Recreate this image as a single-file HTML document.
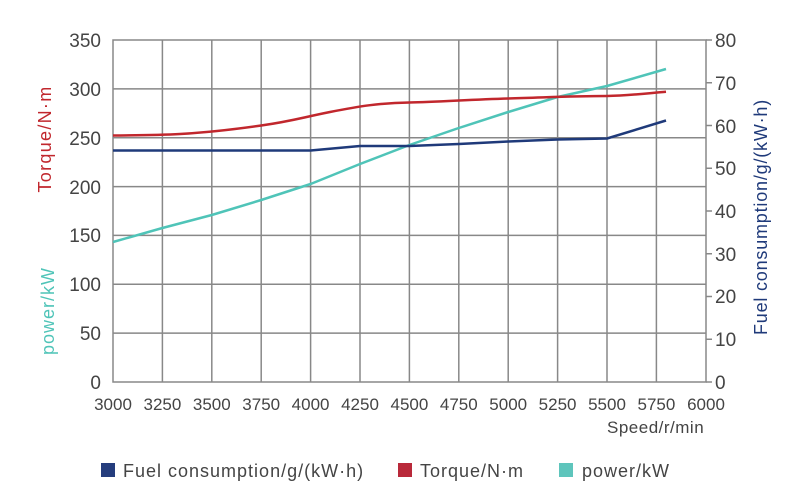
<!DOCTYPE html>
<html><head><meta charset="utf-8"><style>
body{margin:0;background:#fff}
svg{display:block}
text{font-family:"Liberation Sans",sans-serif;fill:#444}
</style></head><body>
<svg width="800" height="500" viewBox="0 0 800 500">
<rect width="800" height="500" fill="#fff"/>
<g stroke="#888" stroke-width="1.5" fill="none">
<path d="M162.4 40V382M211.8 40V382M261.2 40V382M310.6 40V382M360 40V382M409.4 40V382M458.8 40V382M508.2 40V382M557.6 40V382M607 40V382M656.4 40V382"/>
<path d="M113 88.9H706M113 137.7H706M113 186.6H706M113 235.4H706M113 284.3H706M113 333.1H706"/>
<rect x="113" y="40" width="593" height="342"/>
<path d="M706 40h6M706 82.8h6M706 125.5h6M706 168.3h6M706 211h6M706 253.8h6M706 296.5h6M706 339.3h6M706 382h6"/>
</g>
<g font-size="19" text-anchor="end">
<text x="101" y="47">350</text><text x="101" y="96">300</text><text x="101" y="145">250</text>
<text x="101" y="194">200</text><text x="101" y="242">150</text><text x="101" y="291">100</text>
<text x="101" y="340">50</text><text x="101" y="389">0</text>
</g>
<g font-size="19">
<text x="715" y="47">80</text><text x="715" y="90">70</text><text x="715" y="133">60</text>
<text x="715" y="175">50</text><text x="715" y="218">40</text><text x="715" y="261">30</text>
<text x="715" y="303">20</text><text x="715" y="346">10</text><text x="715" y="389">0</text>
</g>
<g font-size="17" text-anchor="middle">
<text x="113" y="410">3000</text><text x="162.4" y="410">3250</text><text x="211.8" y="410">3500</text>
<text x="261.2" y="410">3750</text><text x="310.6" y="410">4000</text><text x="360" y="410">4250</text>
<text x="409.4" y="410">4500</text><text x="458.8" y="410">4750</text><text x="508.2" y="410">5000</text>
<text x="557.6" y="410">5250</text><text x="607" y="410">5500</text><text x="656.4" y="410">5750</text>
<text x="706" y="410">6000</text>
</g>
<text x="607" y="433" font-size="17" letter-spacing="0.5">Speed/r/min</text>
<text transform="translate(51,139) rotate(-90)" text-anchor="middle" font-size="18" letter-spacing="1.3" style="fill:#c1272d">Torque/N·m</text>
<text transform="translate(54,311) rotate(-90)" text-anchor="middle" font-size="18" letter-spacing="1" style="fill:#4fc4b8">power/kW</text>
<text transform="translate(767,217) rotate(-90)" text-anchor="middle" font-size="18" letter-spacing="0.8" style="fill:#1f3a7a">Fuel consumption/g/(kW·h)</text>
<g fill="none" stroke-width="2.5" stroke-linejoin="round">
<polyline stroke="#4fc4b8" points="113,242 162.4,228 211.8,215 261.2,200 310.6,184 360,164 409.4,145 458.8,128 508.2,112 557.6,97 607,86 666,69"/>
<polyline stroke="#1f3a7a" points="113,150.5 310.6,150.5 360,146 409.4,146 458.8,144 508.2,141.5 557.6,139.5 607,138.5 666,120.5"/>
<path stroke="#c1272d" d="M113,135.5 C140,135.3 162,135 180,134 S230,130 261.2,125.5 S300,118 330,112 S380,103 409.4,102.5 S470,99.5 508.2,98.5 S570,96 607,96 C630,95.5 650,93 666,91.8"/>
</g>
<rect x="101" y="463" width="14" height="14" fill="#253d7d"/>
<text x="123" y="477" font-size="18" letter-spacing="1">Fuel consumption/g/(kW·h)</text>
<rect x="398" y="463" width="14" height="14" fill="#b9293a"/>
<text x="420" y="477" font-size="18" letter-spacing="1">Torque/N·m</text>
<rect x="559" y="463" width="14" height="14" fill="#5ec5bc"/>
<text x="582" y="477" font-size="18" letter-spacing="1">power/kW</text>
</svg>
</body></html>
